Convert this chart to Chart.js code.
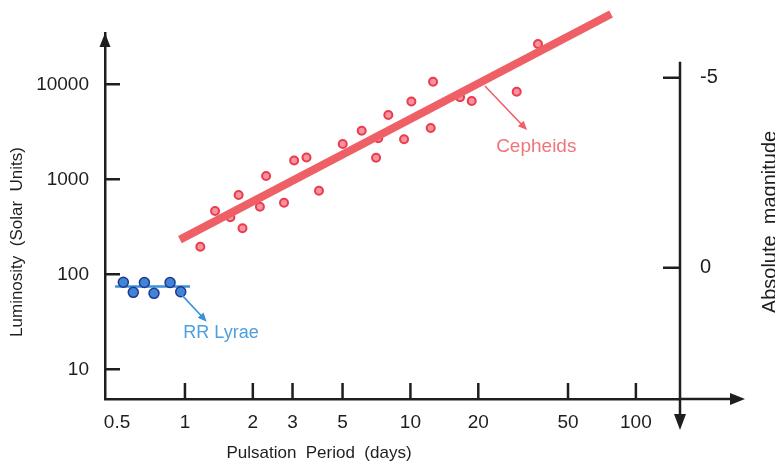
<!DOCTYPE html>
<html>
<head>
<meta charset="utf-8">
<script src="https://cdn.jsdelivr.net/npm/chart.js@4.4.0/dist/chart.umd.min.js"></script>
<style>
  html, body { margin: 0; padding: 0; background: #fff; }
  #wrap { width: 775px; height: 464px; position: relative; }
</style>
</head>
<body>
<div id="wrap"><canvas id="plChart"></canvas></div>
<script>
// tick labels
const periodTicks = [0.5, 1, 2, 3, 5, 10, 20, 50, 100];
const lumTicks = [10, 100, 1000, 10000];
const magTicks = [-5, 0];

// Cepheid stars (period in days, luminosity in solar units)
const cephPeriod = [1.17, 1.36, 1.59, 1.73, 1.80, 2.15, 2.29, 2.75, 3.05, 3.46, 3.93, 5.01, 6.08, 7.04, 7.2, 7.98, 9.37, 10.1, 12.3, 12.6, 16.6, 18.7, 29.6, 36.8];
const cephLum    = [195, 464, 398, 683, 305, 515, 1083, 567, 1577, 1696, 759, 2353, 3248, 1688, 2701, 4752, 2637, 6590, 3467, 10650, 7298, 6670, 8357, 26560];

// RR Lyrae stars
const rrPeriod = [0.533, 0.590, 0.661, 0.729, 0.859, 0.958];
const rrLum    = [82.4, 64.6, 82.0, 63.1, 82.0, 65.6];

// fitted relations
const cephFitPeriod = [0.95, 77.6];
const cephFitLum    = [232, 54950];
const rrFitPeriod = [0.49, 1.053];
const rrFitLum    = [74.4, 74.4];

// axis limits (luminosity -> absolute magnitude: M = M0 - 2.5 log10 L)
const periodMin = 0.442, periodMax = 156.9;
const lumMin = 4.87, lumMax = 34700;
const magZero = 5.17;

const axisColor = '#1e1e1e';
const cephColor = '#ef5f66';
const rrColor = '#3a92da';
const font = '"Liberation Sans", Arial, sans-serif';

const toXY = (xs, ys) => xs.map((v, i) => ({x: v, y: ys[i]}));

function arrowHead(ctx, x0, y0, x1, y1, len, half) {
  const ang = Math.atan2(y1 - y0, x1 - x0);
  ctx.beginPath();
  ctx.moveTo(x1, y1);
  ctx.lineTo(x1 - len * Math.cos(ang) + half * Math.sin(ang), y1 - len * Math.sin(ang) - half * Math.cos(ang));
  ctx.lineTo(x1 - len * Math.cos(ang) - half * Math.sin(ang), y1 - len * Math.sin(ang) + half * Math.cos(ang));
  ctx.closePath();
  ctx.fill();
}

const decor = {
  id: 'decor',
  afterDraw(chart) {
    const {ctx, chartArea: a, scales} = chart;
    const x = scales.x, y = scales.y, mag = scales.mag;
    ctx.save();
    ctx.strokeStyle = axisColor;
    ctx.fillStyle = axisColor;
    ctx.lineWidth = 2.5;

    // left axis arrow
    arrowHead(ctx, a.left, a.bottom, a.left, a.top, 14, 5.5);

    // bottom axis extension + arrow
    const xEnd = a.right + 65;
    ctx.beginPath();
    ctx.moveTo(a.right, a.bottom);
    ctx.lineTo(xEnd - 10, a.bottom);
    ctx.stroke();
    arrowHead(ctx, a.left, a.bottom, xEnd, a.bottom, 15, 6);

    // right (magnitude) axis
    const rTop = mag.getPixelForValue(magTicks[0]) - 16;
    const rEnd = a.bottom + 31;
    ctx.beginPath();
    ctx.moveTo(a.right, rTop);
    ctx.lineTo(a.right, rEnd - 8);
    ctx.stroke();
    arrowHead(ctx, a.right, rTop, a.right, rEnd, 16, 6);

    // inward tick marks
    ctx.beginPath();
    lumTicks.forEach(v => {
      const p = y.getPixelForValue(v);
      ctx.moveTo(a.left, p); ctx.lineTo(a.left + 15, p);
    });
    periodTicks.filter(v => v >= 1).forEach(v => {
      const p = x.getPixelForValue(v);
      ctx.moveTo(p, a.bottom); ctx.lineTo(p, a.bottom - 16);
    });
    magTicks.forEach(v => {
      const p = mag.getPixelForValue(v);
      ctx.moveTo(a.right - 17, p); ctx.lineTo(a.right, p);
    });
    ctx.stroke();

    // pointer arrows
    const arrows = [
      {from: [0.968, 60.7], to: [1.249, 31.7], color: rrColor},
      {from: [21.4, 9596], to: [32.9, 3304], color: cephColor}
    ];
    arrows.forEach(ar => {
      const x0 = x.getPixelForValue(ar.from[0]), y0 = y.getPixelForValue(ar.from[1]);
      const x1 = x.getPixelForValue(ar.to[0]), y1 = y.getPixelForValue(ar.to[1]);
      ctx.strokeStyle = ar.color;
      ctx.fillStyle = ar.color;
      ctx.lineWidth = 1.6;
      ctx.beginPath();
      ctx.moveTo(x0, y0);
      ctx.lineTo(x1 - 6 * (x1 - x0) / Math.hypot(x1 - x0, y1 - y0), y1 - 6 * (y1 - y0) / Math.hypot(x1 - x0, y1 - y0));
      ctx.stroke();
      arrowHead(ctx, x0, y0, x1, y1, 9, 4);
    });

    // series labels
    ctx.textBaseline = 'middle';
    ctx.textAlign = 'left';
    ctx.font = '18px ' + font;
    ctx.fillStyle = '#4d9fe0';
    ctx.fillText('RR Lyrae', x.getPixelForValue(0.984), y.getPixelForValue(23.9));
    ctx.font = '19px ' + font;
    ctx.fillStyle = '#f07579';
    ctx.fillText('Cepheids', x.getPixelForValue(24), y.getPixelForValue(2204));

    // axis titles
    ctx.fillStyle = axisColor;
    ctx.textAlign = 'center';
    ctx.textBaseline = 'middle';
    ctx.font = '17px ' + font;
    ctx.fillText('Pulsation  Period  (days)', 319, 453);

    ctx.save();
    ctx.translate(17, 242);
    ctx.rotate(-Math.PI / 2);
    ctx.fillText('Luminosity  (Solar  Units)', 0, 0);
    ctx.restore();

    ctx.save();
    ctx.translate(770, 222);
    ctx.rotate(-Math.PI / 2);
    ctx.font = '20px ' + font;
    ctx.fillText('Absolute  magnitude', 0, 0);
    ctx.restore();

    ctx.restore();
  }
};

const chart = new Chart(document.getElementById('plChart'), {
  data: {
    datasets: [
      {
        type: 'line',
        label: 'Cepheid fit',
        data: toXY(cephFitPeriod, cephFitLum),
        borderColor: cephColor,
        borderWidth: 8,
        borderCapStyle: 'butt',
        pointRadius: 0,
        clip: false,
        order: 0
      },
      {
        type: 'scatter',
        label: 'Cepheids',
        data: toXY(cephPeriod, cephLum),
        backgroundColor: '#f6939b',
        borderColor: '#ea3b50',
        borderWidth: 2,
        pointRadius: 4,
        order: 1
      },
      {
        type: 'scatter',
        label: 'RR Lyrae',
        data: toXY(rrPeriod, rrLum),
        backgroundColor: '#3f86d8',
        borderColor: '#22378c',
        borderWidth: 1.5,
        pointRadius: 5,
        order: 2
      },
      {
        type: 'line',
        label: 'RR Lyrae fit',
        data: toXY(rrFitPeriod, rrFitLum),
        borderColor: rrColor,
        borderWidth: 2.5,
        pointRadius: 0,
        clip: false,
        order: 3
      }
    ]
  },
  options: {
    responsive: true,
    maintainAspectRatio: false,
    animation: false,
    layout: { padding: { top: 33, left: 0, right: 0, bottom: 0 } },
    plugins: {
      legend: { display: false },
      tooltip: { enabled: false }
    },
    scales: {
      x: {
        type: 'logarithmic',
        position: 'bottom',
        min: periodMin,
        max: periodMax,
        bounds: 'data',
        grid: { display: false, drawTicks: false },
        border: { display: true, color: axisColor, width: 2.5 },
        afterBuildTicks: s => { s.ticks = periodTicks.map(v => ({value: v})); },
        afterFit: s => { s.height = 65; },
        ticks: {
          autoSkip: false,
          maxRotation: 0,
          padding: 12,
          color: axisColor,
          font: { size: 19, family: font },
          callback: v => String(v)
        }
      },
      y: {
        type: 'logarithmic',
        position: 'left',
        min: lumMin,
        max: lumMax,
        bounds: 'data',
        grid: { display: false, drawTicks: false },
        border: { display: true, color: axisColor, width: 2.5 },
        afterBuildTicks: s => { s.ticks = lumTicks.map(v => ({value: v})); },
        afterFit: s => { s.width = 105; },
        ticks: {
          padding: 16,
          color: axisColor,
          font: { size: 19, family: font },
          callback: v => String(v)
        }
      },
      mag: {
        type: 'linear',
        position: 'right',
        reverse: true,
        min: magZero - 2.5 * Math.log10(lumMax),
        max: magZero - 2.5 * Math.log10(lumMin),
        bounds: 'data',
        grid: { display: false, drawTicks: false },
        border: { display: false },
        afterBuildTicks: s => { s.ticks = magTicks.map(v => ({value: v})); },
        afterFit: s => { s.width = 95; },
        ticks: {
          padding: 20,
          color: axisColor,
          font: { size: 20, family: font },
          callback: v => String(v)
        }
      }
    }
  },
  plugins: [decor]
});
</script>
</body>
</html>
